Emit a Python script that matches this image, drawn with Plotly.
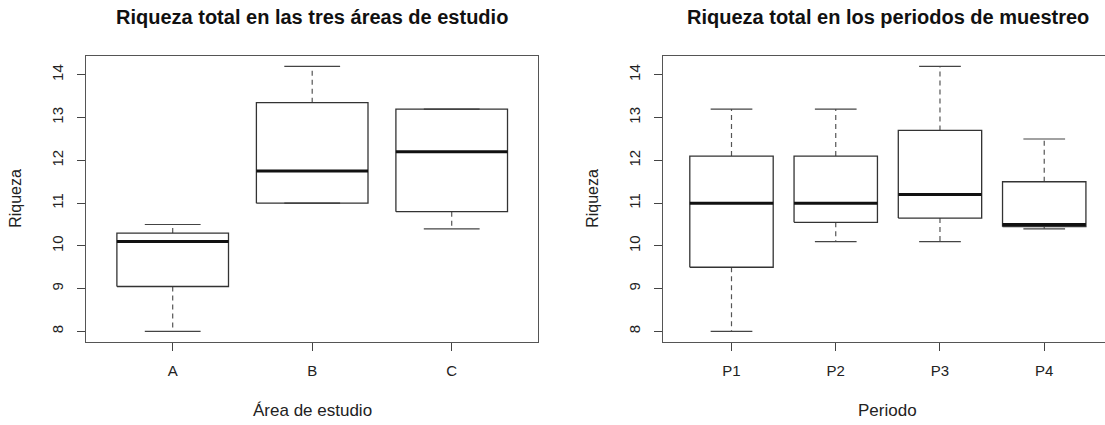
import plotly.graph_objects as go

# ---------------- data ----------------
area_cats = ["A", "B", "C"]
area_min = [8.0, 11.0, 10.4]
area_q1 = [9.05, 11.0, 10.8]
area_med = [10.1, 11.75, 12.2]
area_q3 = [10.3, 13.35, 13.2]
area_max = [10.5, 14.2, 13.2]

per_cats = ["P1", "P2", "P3", "P4"]
per_min = [8.0, 10.1, 10.1, 10.4]
per_q1 = [9.5, 10.55, 10.65, 10.45]
per_med = [11.0, 11.0, 11.2, 10.5]
per_q3 = [12.1, 12.1, 12.7, 11.5]
per_max = [13.2, 13.2, 14.2, 12.5]

y_ticks = [8, 9, 10, 11, 12, 13, 14]

# ---------------- style ----------------
BOXW = 0.8          # box width (category units)
CAPW = 0.4          # staple width
FONT = "Liberation Sans, Arial, Helvetica, sans-serif"
FRAME = "#555555"

W, H = 1105, 425


def px(xp):   # page x pixel -> paper fraction
    return xp / W


def py(yp):   # page y pixel (from top) -> paper fraction
    return 1 - yp / H


fig = go.Figure()


def add_boxes(cats, lo, q1, med, q3, hi, xa, ya):
    hx, hy, wx, wy, cx, cy, mx, my = [], [], [], [], [], [], [], []
    for i in range(len(cats)):
        x = i + 1
        a, b = x - BOXW / 2, x + BOXW / 2
        hx += [a, b, b, a, a, None]
        hy += [q1[i], q1[i], q3[i], q3[i], q1[i], None]
        wx += [x, x, None, x, x, None]
        wy += [q3[i], hi[i], None, q1[i], lo[i], None]
        ca, cb = x - CAPW / 2, x + CAPW / 2
        cx += [ca, cb, None, ca, cb, None]
        cy += [hi[i], hi[i], None, lo[i], lo[i], None]
        mx += [a, b, None]
        my += [med[i], med[i], None]
    common = dict(mode="lines", xaxis=xa, yaxis=ya, hoverinfo="skip", showlegend=False)
    fig.add_trace(go.Scatter(x=wx, y=wy, line=dict(color="#555555", width=1.2, dash="5px,4px"), **common))
    fig.add_trace(go.Scatter(x=cx, y=cy, line=dict(color="#444444", width=1.2), **common))
    fig.add_trace(go.Scatter(x=hx, y=hy, line=dict(color="#333333", width=1.3), **common))
    fig.add_trace(go.Scatter(x=mx, y=my, line=dict(color="#111111", width=3), **common))


add_boxes(area_cats, area_min, area_q1, area_med, area_q3, area_max, "x", "y")
add_boxes(per_cats, per_min, per_q1, per_med, per_q3, per_max, "x2", "y2")

top_px, bot_px = 55.7, 342.0
yd = [py(bot_px), py(top_px)]

ax_common = dict(showgrid=False, zeroline=False, showline=True, linecolor=FRAME, linewidth=1,
                 ticks="outside", ticklen=8, tickcolor="#444444", tickwidth=1,
                 tickfont=dict(family=FONT, size=15, color="#222222"))

fig.update_layout(
    width=W, height=H,
    margin=dict(l=0, r=0, t=0, b=0),
    paper_bgcolor="white", plot_bgcolor="white",
    hovermode=False,
    xaxis=dict(domain=[px(86.2), px(538.2)], range=[0.38, 3.62],
               tickvals=list(range(1, len(area_cats) + 1)), ticktext=area_cats,
               mirror=True, anchor="y", ticklabelstandoff=7, **ax_common),
    yaxis=dict(domain=yd, range=[7.752, 14.448], tickvals=y_ticks, tickangle=-90,
               mirror=True, anchor="x", ticklabelstandoff=8, **ax_common),
    xaxis2=dict(domain=[px(662.7), 1.0], range=[0.34, 4.583],
                tickvals=list(range(1, len(per_cats) + 1)), ticktext=per_cats,
                mirror=True, anchor="y2", ticklabelstandoff=7, **ax_common),
    yaxis2=dict(domain=yd, range=[7.752, 14.448], tickvals=y_ticks, tickangle=-90,
                mirror=False, anchor="x2", ticklabelstandoff=8, **ax_common),
)

ann = []
ymid = (yd[0] + yd[1]) / 2
ann.append(dict(text="<b>Riqueza total en las tres áreas de estudio</b>", x=px(312), y=py(17),
                font=dict(family=FONT, size=20, color="#111111")))
ann.append(dict(text="<b>Riqueza total en los periodos de muestreo</b>", x=px(887.5), y=py(17),
                font=dict(family=FONT, size=20, color="#111111")))
ann.append(dict(text="Área de estudio", x=px(312), y=py(410),
                font=dict(family=FONT, size=17, color="#222222")))
ann.append(dict(text="Periodo", x=px(887.5), y=py(410),
                font=dict(family=FONT, size=17, color="#222222")))
ann.append(dict(text="Riqueza", x=px(16), y=ymid, textangle=-90,
                font=dict(family=FONT, size=16, color="#222222")))
ann.append(dict(text="Riqueza", x=px(593), y=ymid, textangle=-90,
                font=dict(family=FONT, size=16, color="#222222")))
for a in ann:
    a.update(xref="paper", yref="paper", showarrow=False, xanchor="center", yanchor="middle",
             borderpad=0)
fig.update_layout(annotations=ann)

# remove the default 8px page margin so the figure fills the window exactly
fig.write_html("out.html",
               config={"displayModeBar": False, "staticPlot": True},
               post_script="document.body.style.margin='0';document.body.style.overflow='hidden';")
